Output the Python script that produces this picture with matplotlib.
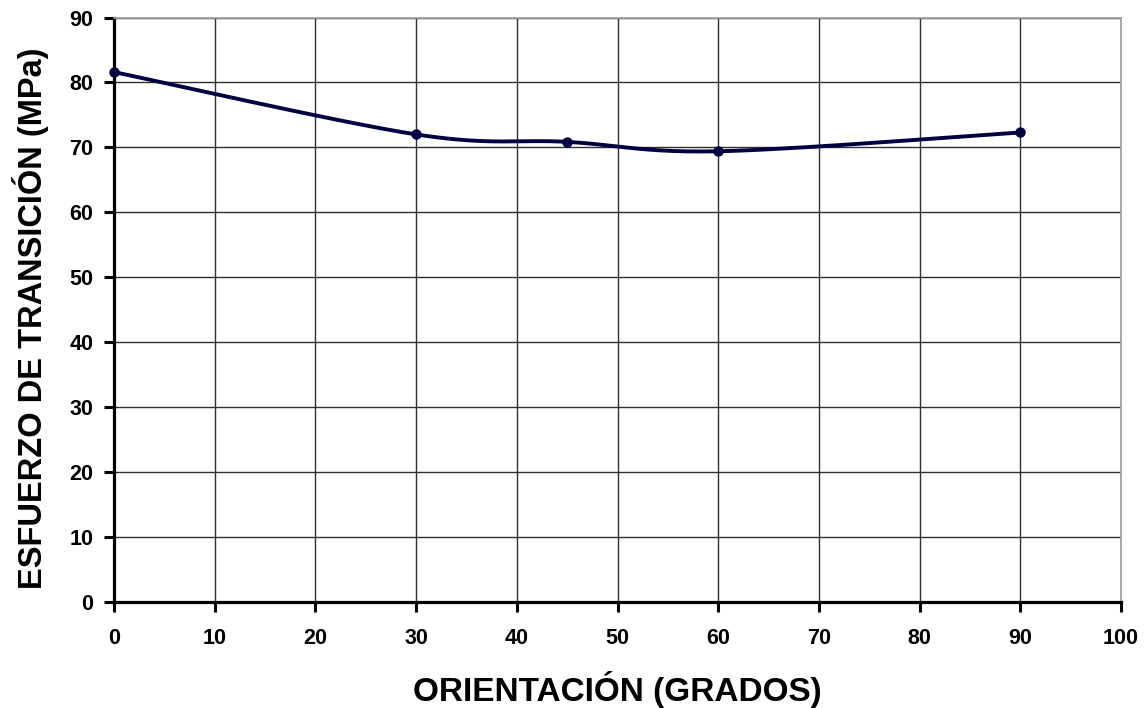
import numpy as np
import matplotlib
matplotlib.use("Agg")
import matplotlib.pyplot as plt

plt.rcParams['font.family'] = ['Liberation Sans', 'DejaVu Sans']

orientacion = [0, 30, 45, 60, 90]
esfuerzo = [81.6, 72.0, 70.85, 69.4, 72.3]
x_ticks = list(range(0, 101, 10))
y_ticks = list(range(0, 91, 10))


def smooth_curve(xs, ys, n=40):
    """Catmull-Rom style Bezier smoothing through the data points."""
    xs = np.asarray(xs, float)
    ys = np.asarray(ys, float)
    px = np.concatenate([[xs[0]], xs, [xs[-1]]])
    py = np.concatenate([[ys[0]], ys, [ys[-1]]])
    out_x, out_y = [], []
    t = np.linspace(0, 1, n)
    for i in range(1, len(px) - 2):
        p0 = np.array([px[i], py[i]])
        p3 = np.array([px[i + 1], py[i + 1]])
        c1 = p0 + (np.array([px[i + 1], py[i + 1]]) - np.array([px[i - 1], py[i - 1]])) / 6
        c2 = p3 - (np.array([px[i + 2], py[i + 2]]) - np.array([px[i], py[i]])) / 6
        b = ((1 - t) ** 3)[:, None] * p0 + (3 * (1 - t) ** 2 * t)[:, None] * c1 \
            + (3 * (1 - t) * t ** 2)[:, None] * c2 + (t ** 3)[:, None] * p3
        out_x.extend(b[:, 0])
        out_y.extend(b[:, 1])
    return np.array(out_x), np.array(out_y)


W, H = 1146, 708
fig = plt.figure(figsize=(W / 100, H / 100), dpi=100)
ax = fig.add_axes([114 / W, 1 - 602 / H, (1121 - 114) / W, (602 - 17.5) / H])

ax.set_xlim(0, 100)
ax.set_ylim(0, 90)
ax.set_xticks(x_ticks)
ax.set_yticks(y_ticks)
ax.grid(True, color='#303030', linewidth=1.0)
ax.set_axisbelow(True)

sx, sy = smooth_curve(orientacion, esfuerzo)
line_color = '#000040'
ax.plot(sx, sy, color=line_color, linewidth=2.8, solid_capstyle='round', zorder=3)
ax.plot(orientacion, esfuerzo, linestyle='none', marker='o', markersize=6.5,
        color=line_color, zorder=4, clip_on=False)

for side in ('top', 'right'):
    ax.spines[side].set_color('#a0a0a0')
    ax.spines[side].set_linewidth(1.2)
for side in ('left', 'bottom'):
    ax.spines[side].set_color('black')
    ax.spines[side].set_linewidth(2.3)

ax.tick_params(axis='both', direction='out', length=7, width=2.2, color='black',
               labelsize=15.5)
ax.tick_params(axis='y', pad=8)
ax.tick_params(axis='x', pad=11.5)
for lbl in ax.get_xticklabels() + ax.get_yticklabels():
    lbl.set_fontweight('bold')

fig.text(617.5 / W, 1 - 690 / H, 'ORIENTACIÓN (GRADOS)', fontsize=24,
         fontweight='bold', ha='center', va='center')
fig.text(30.5 / W, 1 - 318.5 / H, 'ESFUERZO DE TRANSICIÓN (MPa)', fontsize=23.5,
         fontweight='bold', ha='center', va='center', rotation=90)

fig.savefig('out.png', dpi=100, facecolor='white')
